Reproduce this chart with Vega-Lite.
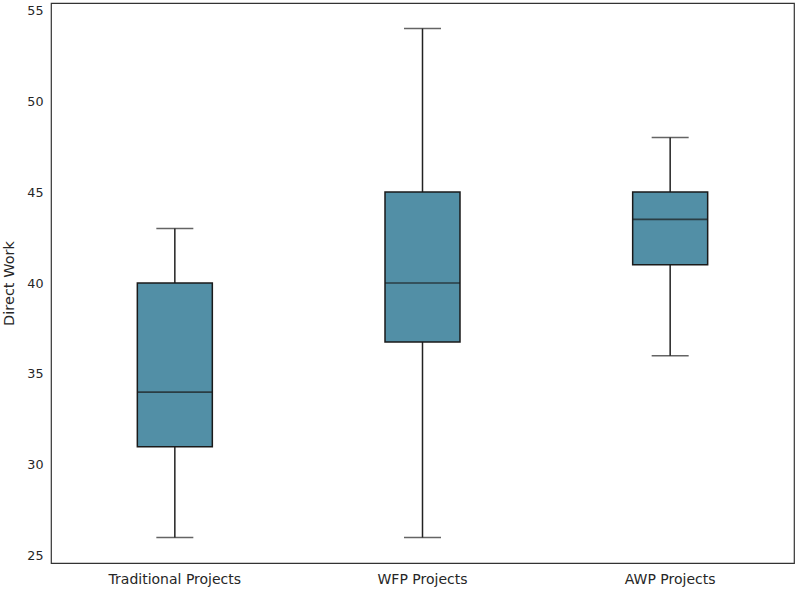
{
  "$schema": "https://vega.github.io/schema/vega-lite/v6.json",
  "width": 743,
  "height": 560,
  "autosize": {"type": "none"},
  "padding": {"left": 51, "top": 3, "right": 2, "bottom": 26},
  "background": "white",
  "config": {
    "view": {"stroke": "#333333", "strokeWidth": 1.2},
    "font": "DejaVu Sans",
    "axis": {"grid": false, "ticks": false, "domain": false, "labelColor": "#262626", "titleColor": "#262626", "titleFontWeight": "normal"}
  },
  "data": {
    "values": [
      {"cat": "Traditional Projects", "lower": 26, "q1": 31, "median": 34, "q3": 40, "upper": 43},
      {"cat": "WFP Projects", "lower": 26, "q1": 36.75, "median": 40, "q3": 45, "upper": 54},
      {"cat": "AWP Projects", "lower": 36, "q1": 41, "median": 43.5, "q3": 45, "upper": 48}
    ]
  },
  "encoding": {
    "x": {"field": "cat", "type": "nominal", "sort": null, "title": null,
      "scale": {"paddingInner": 0, "paddingOuter": 0},
      "axis": {"labelAngle": 0, "labelPadding": 9, "labelFontSize": 14}}
  },
  "layer": [
    {
      "mark": {"type": "rule", "color": "#222222", "strokeWidth": 1.5},
      "encoding": {
        "y": {"field": "lower", "type": "quantitative", "title": "Direct Work",
          "scale": {"domain": [24.6, 55.4], "nice": false, "zero": false},
          "axis": {"values": [25, 30, 35, 40, 45, 50, 55], "labelPadding": 8, "titlePadding": 10, "labelFontSize": 12.7, "titleFontSize": 14.5}},
        "y2": {"field": "upper"}
      }
    },
    {
      "mark": {"type": "bar", "size": 75, "fill": "#528fa6", "stroke": "#1a1a1a", "strokeWidth": 1.5},
      "encoding": {
        "y": {"field": "q1", "type": "quantitative"},
        "y2": {"field": "q3"}
      }
    },
    {
      "mark": {"type": "tick", "size": 75, "thickness": 1.7, "color": "#1a1a1a"},
      "encoding": {"y": {"field": "median", "type": "quantitative"}}
    },
    {
      "mark": {"type": "tick", "size": 37, "thickness": 1.5, "color": "#222222"},
      "encoding": {"y": {"field": "lower", "type": "quantitative"}}
    },
    {
      "mark": {"type": "tick", "size": 37, "thickness": 1.5, "color": "#222222"},
      "encoding": {"y": {"field": "upper", "type": "quantitative"}}
    }
  ]
}
